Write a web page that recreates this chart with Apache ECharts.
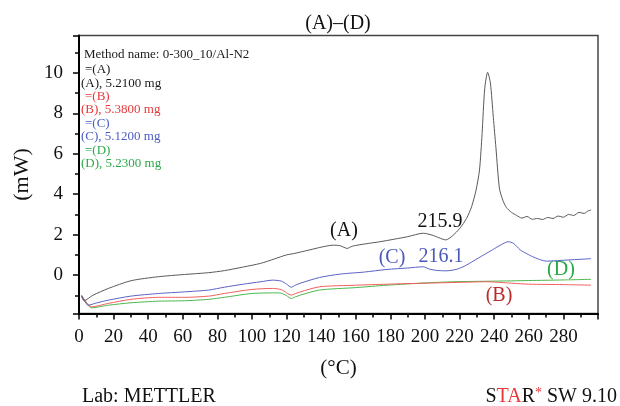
<!DOCTYPE html>
<html>
<head>
<meta charset="utf-8">
<script src="https://cdn.jsdelivr.net/npm/echarts@6/dist/echarts.min.js"></script>
<style>
html,body{margin:0;padding:0;background:#fff;}
#c{width:620px;height:406px;}
</style>
</head>
<body>
<div id="c"></div>
<script>
// ---- data ----
var tempA = [1.5, 2.9, 8, 17, 30, 46, 61, 75, 84, 95, 105, 113, 120, 124, 133, 141, 147, 151, 155, 158, 166, 174, 190, 199, 204, 208, 212, 216, 220, 224, 227, 229.5, 231.5, 233, 234.5, 236.2, 237.8, 239.5, 241, 243, 245, 247, 250, 253, 256, 259, 262, 265, 268, 271, 274, 277, 280, 283, 286, 289, 292, 294, 296];
var mwA   = [-1.05, -1.27, -1.0, -0.66, -0.28, -0.08, 0.03, 0.12, 0.22, 0.4, 0.58, 0.8, 1.0, 1.06, 1.24, 1.4, 1.48, 1.45, 1.32, 1.43, 1.55, 1.65, 1.9, 2.07, 1.98, 1.85, 1.74, 1.95, 2.3, 2.8, 3.4, 4.2, 5.2, 7.0, 9.2, 10.03, 9.5, 7.8, 6.3, 4.3, 3.7, 3.35, 3.1, 2.95, 2.82, 2.9, 2.76, 2.8, 2.75, 2.85, 2.8, 2.92, 2.86, 3.0, 2.95, 3.1, 3.05, 3.16, 3.22];

var tempB = [1.5, 7.3, 17, 30, 46, 61, 75, 84, 100, 112, 117, 120, 122.7, 125, 128, 139, 160, 178, 200, 220, 235, 250, 260, 280, 296];
var mwB   = [-1.0, -1.57, -1.4, -1.2, -1.1, -1.1, -1.04, -0.91, -0.71, -0.66, -0.72, -0.88, -0.99, -0.92, -0.83, -0.58, -0.5, -0.45, -0.4, -0.36, -0.33, -0.4, -0.45, -0.47, -0.5];

var tempC = [1.5, 5.4, 10, 17, 30, 46, 61, 75, 84, 95, 105, 112, 117, 120, 122.7, 125, 128, 139, 151, 165, 178, 190, 199, 202.5, 207, 212, 218, 223, 228, 234, 239, 244, 248, 251, 255, 259, 263, 267, 270, 283, 296];
var mwC   = [-1.0, -1.49, -1.38, -1.24, -1.04, -0.91, -0.83, -0.74, -0.6, -0.45, -0.33, -0.25, -0.3, -0.45, -0.6, -0.5, -0.4, -0.12, 0.05, 0.15, 0.28, 0.35, 0.41, 0.3, 0.23, 0.21, 0.28, 0.45, 0.7, 1.0, 1.25, 1.5, 1.65, 1.58, 1.25, 1.05, 0.88, 0.75, 0.69, 0.75, 0.81];

var tempD = [1.5, 7.3, 17, 30, 46, 61, 75, 84, 100, 116, 120, 122.7, 125, 128, 139, 160, 178, 200, 216, 240, 260, 280, 296];
var mwD   = [-1.05, -1.62, -1.49, -1.37, -1.29, -1.27, -1.2, -1.1, -0.91, -0.88, -1.02, -1.16, -1.08, -0.99, -0.74, -0.62, -0.5, -0.39, -0.33, -0.3, -0.27, -0.24, -0.21];

var sampleNames = ['(A)', '(B)', '(C)', '(D)'];
var sampleMasses = ['5.2100', '5.3800', '5.1200', '5.2300'];
var peakLabelA = '215.9';
var peakLabelC = '216.1';
var methodName = 'Method name: 0-300_10/Al-N2';

// ---- styles ----
var FONT = '"Liberation Serif", "DejaVu Serif", serif';
var lineColors = ['#5a5a5a', '#f0605c', '#5a63c6', '#4cb84e'];
var legendColors = ['#1a1a1a', '#e8383a', '#4a5cc0', '#2da84a'];

function pairs(xs, ys) { return xs.map(function (x, i) { return [x, ys[i]]; }); }

var graphics = [];
function txt(t, x, y, size, color, align) {
  graphics.push({ type: 'text', x: x, y: y, silent: true,
    style: { text: t, font: size + 'px ' + FONT, fill: color, textAlign: align || 'left', textVerticalAlign: 'middle' } });
}
txt(methodName, 84, 55, 13, '#1a1a1a');
for (var i = 0; i < 4; i++) {
  txt('=' + sampleNames[i], 85, 70 + i * 26.7, 13, legendColors[i]);
  txt(sampleNames[i] + ', ' + sampleMasses[i] + ' mg', 81, 83.3 + i * 26.7, 13, legendColors[i]);
}
// curve annotations
txt('(A)', 344, 231, 20, '#111', 'center');
txt(peakLabelA, 440, 222, 20, '#111', 'center');
txt('(C)', 392, 258, 20, '#4a58b8', 'center');
txt(peakLabelC, 441, 257, 20, '#4a58b8', 'center');
txt('(D)', 561, 270, 20, '#2aa845', 'center');
txt('(B)', 499, 296, 20, '#b82c2c', 'center');
// footer
txt('Lab: METTLER', 82, 397, 20, '#111');
graphics.push({ type: 'text', x: 617, y: 397, silent: true,
  style: { text: '{k|S}{r|TA}{k|R}{s|*}{k| SW 9.10}', textAlign: 'right', textVerticalAlign: 'middle',
    rich: {
      k: { font: '20px ' + FONT, fill: '#111', lineHeight: 22 },
      r: { font: '20px ' + FONT, fill: '#e8383a', lineHeight: 22 },
      s: { font: '14px ' + FONT, fill: '#e8383a', verticalAlign: 'top', lineHeight: 22 }
    } } });

var chart = echarts.init(document.getElementById('c'), null, { renderer: 'canvas' });
chart.setOption({
  animation: false,
  backgroundColor: '#fff',
  title: { text: '(A)–(D)', left: 333, top: 9, textAlign: 'center',
    textStyle: { fontFamily: FONT, fontSize: 20, fontWeight: 'normal', color: '#111' } },
  grid: { left: 79, right: 22, top: 35.5, bottom: 92.5, show: true, borderColor: '#444', borderWidth: 1.5, backgroundColor: 'transparent',
    containLabel: false, outerBoundsMode: 'none' },
  xAxis: {
    type: 'value', min: 0, max: 300, interval: 20,
    name: '(°C)', nameLocation: 'middle', nameGap: 44,
    nameTextStyle: { fontFamily: FONT, fontSize: 21, color: '#111' },
    axisLine: { show: true, onZero: false, lineStyle: { color: '#000', width: 2 } },
    axisTick: { show: true, length: 6, lineStyle: { color: '#000', width: 1.5 } },
    minorTick: { show: true, splitNumber: 2, length: 4, lineStyle: { color: '#000', width: 1.5 } },
    axisLabel: { fontFamily: FONT, fontSize: 19, color: '#111', margin: 14, showMaxLabel: false },
    splitLine: { show: false }
  },
  yAxis: {
    type: 'value', min: -1.9, max: 11.85, splitNumber: 7,
    name: '(mW)', nameLocation: 'middle', nameGap: 46, nameRotate: 90,
    nameTextStyle: { fontFamily: FONT, fontSize: 22, color: '#111' },
    axisLine: { show: true, onZero: false, lineStyle: { color: '#000', width: 2 } },
    axisTick: { show: true, length: 6, lineStyle: { color: '#000', width: 1.5 } },
    minorTick: { show: true, splitNumber: 2, length: 4, lineStyle: { color: '#000', width: 1.5 } },
    axisLabel: { fontFamily: FONT, fontSize: 19, color: '#111', margin: 16, showMinLabel: false, showMaxLabel: false },
    splitLine: { show: false }
  },
  series: [
    { name: 'A', type: 'line', data: pairs(tempA, mwA), smooth: 0.25, symbol: 'none', lineStyle: { color: lineColors[0], width: 1 }, z: 4 },
    { name: 'B', type: 'line', data: pairs(tempB, mwB), smooth: 0.25, symbol: 'none', lineStyle: { color: lineColors[1], width: 1 }, z: 3 },
    { name: 'C', type: 'line', data: pairs(tempC, mwC), smooth: 0.25, symbol: 'none', lineStyle: { color: lineColors[2], width: 1 }, z: 3 },
    { name: 'D', type: 'line', data: pairs(tempD, mwD), smooth: 0.25, symbol: 'none', lineStyle: { color: lineColors[3], width: 1 }, z: 2 }
  ],
  graphic: graphics
});
</script>
</body>
</html>
